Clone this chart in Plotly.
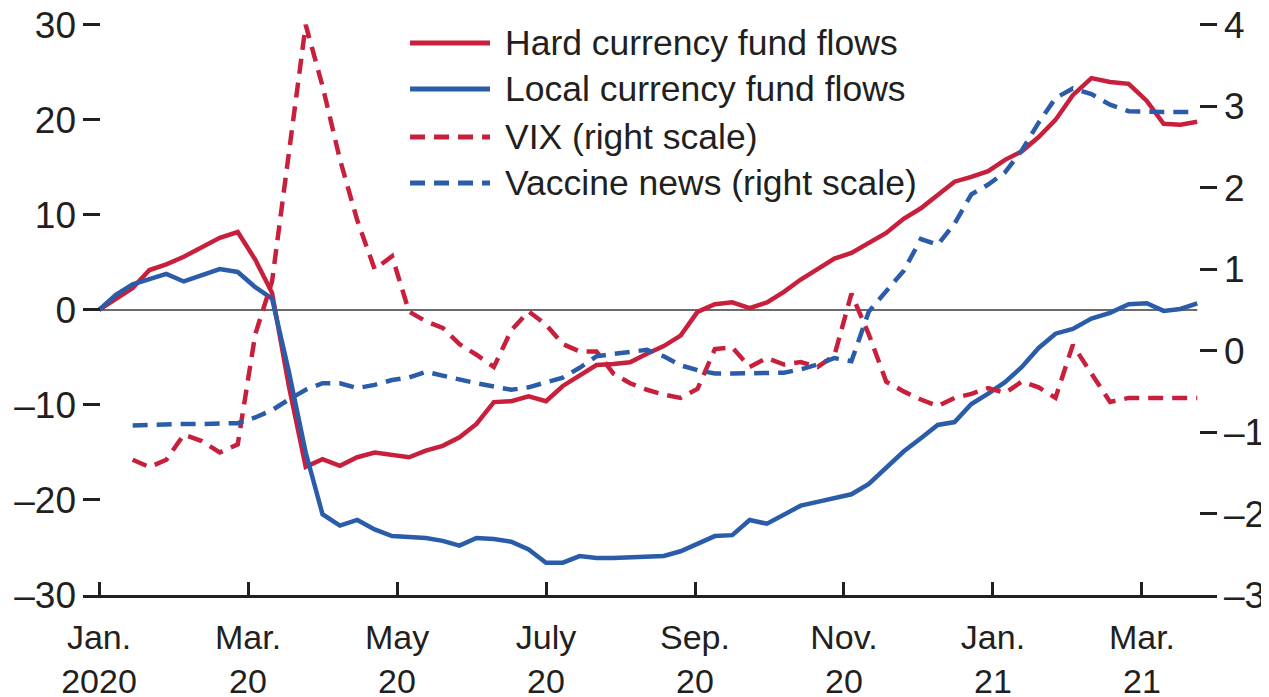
import pandas as pd
import plotly.graph_objects as go

# ---------------- data ----------------
dates = pd.date_range("2020-01-01", periods=65, freq="7D")

hard_currency = [0, 1.2, 2.3, 4.2, 4.8, 5.6, 6.6, 7.6, 8.2, 5.3,
                 1.8, -8.0, -16.5, -15.7, -16.4, -15.5, -15.0, -15.3, -15.5, -14.8,
                 -14.3, -13.4, -12.0, -9.7, -9.6, -9.1, -9.6, -8.0, -6.9, -5.8,
                 -5.7, -5.5, -4.6, -3.8, -2.7, -0.2, 0.6, 0.8, 0.2, 0.8,
                 1.9, 3.2, 4.3, 5.4, 6.0, 7.0, 8.1, 9.6, 10.7, 12.1,
                 13.5, 14.0, 14.6, 15.8, 16.7, 18.2, 20.0, 22.6, 24.4, 24.0,
                 23.8, 22.0, 19.6, 19.5, 19.8]

local_currency = [0, 1.6, 2.7, 3.3, 3.8, 3.0, 3.6, 4.3, 4.0, 2.4,
                  1.2, -6.5, -15.0, -21.5, -22.7, -22.1, -23.1, -23.8, -23.9, -24.0,
                  -24.3, -24.8, -24.0, -24.1, -24.4, -25.2, -26.6, -26.6, -25.9, -26.1,
                  -26.1, -26.0, -26.0, -25.9, -25.4, -24.6, -23.8, -23.7, -22.1, -22.5,
                  -21.5, -20.6, -20.2, -19.8, -19.4, -18.3, -16.6, -14.9, -13.5, -12.1,
                  -11.8, -9.9, -8.8, -7.6, -6.0, -4.0, -2.5, -2.0, -0.9, -0.3,
                  0.6, 0.7, -0.1, 0.1, 0.7]

vix = [None, None, -1.34, -1.43, -1.34, -1.03, -1.11, -1.25, -1.15, 0.2,
       0.85, 2.4, 4.0, 3.25, 2.35, 1.6, 1.0, 1.16, 0.48, 0.36,
       0.28, 0.08, -0.05, -0.2, 0.25, 0.48, 0.32, 0.08, -0.01, -0.01,
       -0.28, -0.40, -0.48, -0.54, -0.58, -0.47, 0.02, 0.04, -0.20, -0.09,
       -0.17, -0.14, -0.20, -0.06, 0.70, 0.2, -0.38, -0.50, -0.60, -0.68,
       -0.58, -0.53, -0.46, -0.52, -0.38, -0.45, -0.58, 0.07, -0.28, -0.63,
       -0.58, -0.58, -0.58, -0.58, -0.58]

vaccine = [None, None, -0.92, -0.91, -0.90, -0.90, -0.90, -0.90, -0.89, -0.82,
           -0.73, -0.60, -0.48, -0.40, -0.40, -0.46, -0.42, -0.36, -0.33, -0.26,
           -0.31, -0.35, -0.40, -0.44, -0.48, -0.45, -0.39, -0.33, -0.21, -0.07,
           -0.04, -0.02, 0.01, -0.07, -0.18, -0.24, -0.28, -0.28, -0.28, -0.28,
           -0.27, -0.23, -0.17, -0.09, -0.13, 0.48, 0.73, 0.98, 1.37, 1.30,
           1.56, 1.92, 2.04, 2.19, 2.46, 2.80, 3.10, 3.22, 3.15, 3.02,
           2.94, 2.93, 2.93, 2.93, 2.93]

series_names = ["Hard currency fund flows", "Local currency fund flows",
                "VIX (right scale)", "Vaccine news (right scale)"]

x_tick_dates = ["2020-01-01", "2020-03-01", "2020-05-01", "2020-07-01",
                "2020-09-01", "2020-11-01", "2021-01-01", "2021-03-01"]
x_tick_labels = ["Jan.<br>2020", "Mar.<br>20", "May<br>20", "July<br>20",
                 "Sep.<br>20", "Nov.<br>20", "Jan.<br>21", "Mar.<br>21"]

left_ticks = [-30, -20, -10, 0, 10, 20, 30]
left_tick_labels = ["–30", "–20", "–10", "0", "10", "20", "30"]
right_ticks = [-3, -2, -1, 0, 1, 2, 3, 4]
right_tick_labels = ["–3", "–2", "–1", "0", "1", "2", "3", "4"]

# ---------------- helpers ----------------
def month_index(d):
    d = pd.Timestamp(d)
    return (d.year - 2020) * 12 + (d.month - 1) + (d.day - 1) / d.days_in_month

x = [month_index(d) for d in dates]
x_ticks = [month_index(d) for d in x_tick_dates]

RED = "#C8203C"
BLUE = "#2A5CAA"
TXT = "#231F20"
FONT = "Liberation Sans, Arial, sans-serif"
DASH = "15px,9px"
LW = 4.5

fig = go.Figure()
fig.add_trace(go.Scatter(x=x, y=hard_currency, mode="lines", name=series_names[0],
                         line=dict(color=RED, width=LW), yaxis="y"))
fig.add_trace(go.Scatter(x=x, y=local_currency, mode="lines", name=series_names[1],
                         line=dict(color=BLUE, width=LW), yaxis="y"))
fig.add_trace(go.Scatter(x=x, y=vix, mode="lines", name=series_names[2],
                         line=dict(color=RED, width=LW, dash=DASH), yaxis="y2"))
fig.add_trace(go.Scatter(x=x, y=vaccine, mode="lines", name=series_names[3],
                         line=dict(color=BLUE, width=LW, dash=DASH), yaxis="y2"))

x_min, x_max = -0.215, 15.007
# small headroom so the top ticks (30 / 4) are drawn
y_top = 30.2
y2_top = 4 + 0.2 * 7 / 60

# zero line (left scale)
fig.add_shape(type="line", xref="x", yref="y", x0=x_min, x1=x[-1], y0=0, y1=0,
              line=dict(color="#3a3a3a", width=1.5), layer="below")

# manual legend
leg_y = [0.9650, 0.8846, 0.8007, 0.7203]
leg_styles = [(RED, "solid"), (BLUE, "solid"), (RED, DASH), (BLUE, DASH)]
for name, yy, (col, dsh) in zip(series_names, leg_y, leg_styles):
    fig.add_shape(type="line", xref="paper", yref="paper", x0=0.2884, x1=0.3589,
                  y0=yy, y1=yy, line=dict(color=col, width=LW + 0.5, dash=dsh))
    fig.add_annotation(xref="paper", yref="paper", x=0.3704, y=yy, text=name,
                       showarrow=False, xanchor="left", yanchor="middle",
                       font=dict(family=FONT, size=35.5, color=TXT))

fig.update_layout(
    width=1261, height=689,
    margin=dict(l=75, r=52, t=15, b=102),
    paper_bgcolor="white", plot_bgcolor="white",
    showlegend=False,
    font=dict(family=FONT, size=37, color=TXT),
    xaxis=dict(range=[x_min, x_max], tickmode="array", tickvals=x_ticks,
               ticktext=x_tick_labels, ticks="inside", ticklen=13, tickwidth=2.5,
               tickcolor=TXT, showline=True, linecolor=TXT, linewidth=2.5,
               showgrid=False, zeroline=False, automargin=False,
               ticklabelstandoff=10, ticklabeloverflow="allow",
               tickfont=dict(family=FONT, size=34, color=TXT)),
    yaxis=dict(range=[-30, y_top], tickmode="array", tickvals=left_ticks,
               ticktext=left_tick_labels, ticks="inside", ticklen=17, tickwidth=2.5,
               tickcolor=TXT, showline=False, showgrid=False, zeroline=False,
               automargin=False, ticklabelstandoff=6, ticklabeloverflow="allow",
               tickfont=dict(family=FONT, size=37, color=TXT)),
    yaxis2=dict(range=[-3, y2_top], overlaying="y", side="right", tickmode="array",
                tickvals=right_ticks, ticktext=right_tick_labels, ticks="inside",
                ticklen=17, tickwidth=2.5, tickcolor=TXT, showline=False,
                showgrid=False, zeroline=False, automargin=False,
                ticklabelstandoff=6, ticklabeloverflow="allow",
                tickfont=dict(family=FONT, size=37, color=TXT)),
)

fig.write_html("out.html")
